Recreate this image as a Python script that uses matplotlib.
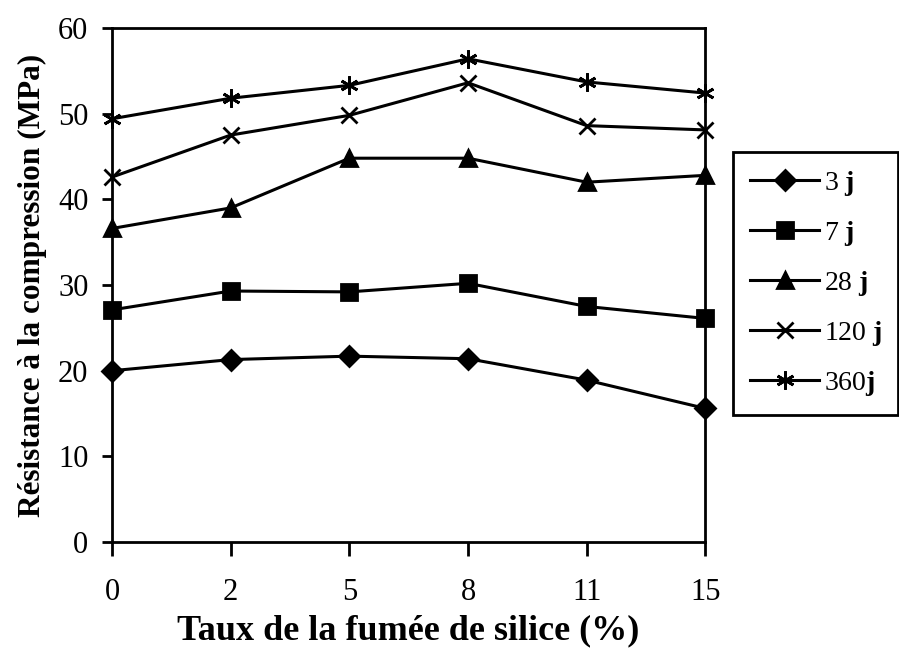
import matplotlib
matplotlib.use("Agg")
import matplotlib.pyplot as plt

plt.rcParams['font.family'] = ['Liberation Serif', 'DejaVu Serif']
plt.rcParams['mathtext.fontset'] = 'custom'
plt.rcParams['mathtext.rm'] = 'Liberation Serif'
plt.rcParams['mathtext.bf'] = 'Liberation Serif:bold'

# taux de fumee de silice (%), axe categoriel
taux = ['0', '2', '5', '8', '11', '15']

# resistance a la compression (MPa) par age
r_3j = [20.0, 21.3, 21.7, 21.4, 18.9, 15.6]
r_7j = [27.1, 29.3, 29.2, 30.2, 27.5, 26.1]
r_28j = [36.6, 39.0, 44.8, 44.8, 42.0, 42.8]
r_120j = [42.6, 47.5, 49.8, 53.6, 48.6, 48.1]
r_360j = [49.4, 51.8, 53.3, 56.4, 53.7, 52.4]

series = [
    (r_3j, 'D', 10, r'3 $\mathbf{j}$'),
    (r_7j, 's', 11, r'7 $\mathbf{j}$'),
    (r_28j, '^', 12, r'28 $\mathbf{j}$'),
    (r_120j, 'x', 12, r'120 $\mathbf{j}$'),
    (r_360j, (6, 2, 0), 13, r'360$\mathbf{j}$'),
]

fig = plt.figure(figsize=(8.99, 6.5), dpi=100)
ax = fig.add_axes([0.1246, 0.166, 0.660, 0.791])

xpos = list(range(len(taux)))
for vals, mk, ms, lab in series:
    ax.plot(xpos, vals, color='black', lw=2.2, marker=mk, markersize=ms,
            markeredgewidth=2.0, markerfacecolor='black', markeredgecolor='black',
            label=lab, clip_on=False)

ax.set_xlim(0, len(taux) - 1)
ax.set_ylim(0, 60)
ax.set_xticks(xpos)
ax.set_xticklabels(taux)
ax.set_yticks(range(0, 61, 10))

for sp in ax.spines.values():
    sp.set_linewidth(2)
ax.tick_params(axis='both', direction='out', width=2, labelsize=22)
ax.tick_params(axis='x', length=10, pad=16)
ax.tick_params(axis='y', length=7, pad=10)

ax.set_xlabel('Taux de la fumée de silice (%)', fontsize=26, fontweight='bold', labelpad=5)
ax.set_ylabel('Résistance à la compression (MPa)', fontsize=22.5, fontweight='bold', labelpad=8)

leg = ax.legend(loc='upper left', bbox_to_anchor=(1.047, 0.759), borderaxespad=0,
                fontsize=20, frameon=True, fancybox=False, framealpha=1,
                edgecolor='black', handlelength=2.5, labelspacing=0.76,
                handletextpad=0.15, borderpad=0.6)
leg.get_frame().set_linewidth(2)

plt.savefig('out.png', dpi=100)
